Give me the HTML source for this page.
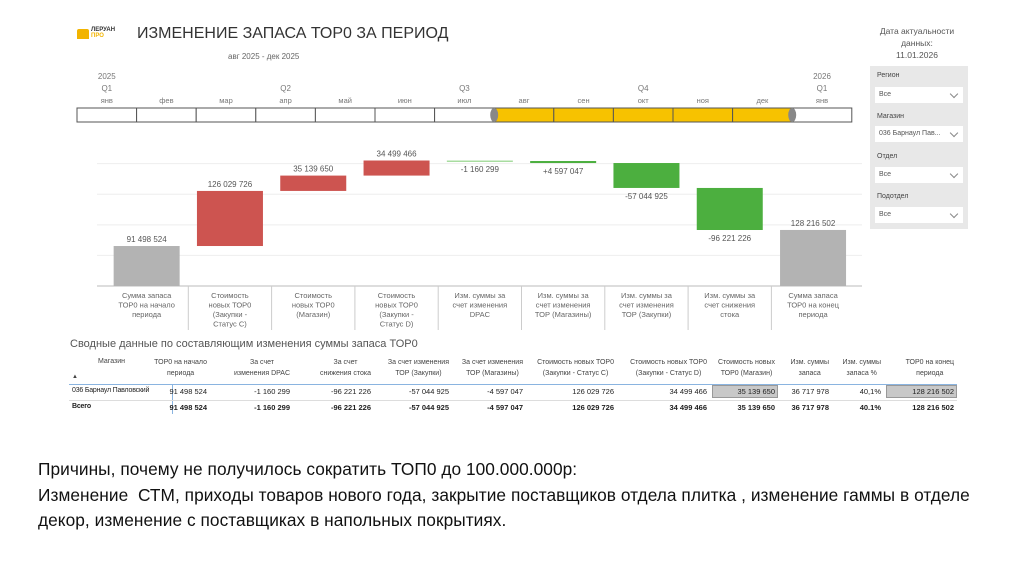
<!DOCTYPE html>
<html><head><meta charset="utf-8"><style>
body{margin:0;width:1024px;height:574px;background:#fff;overflow:hidden;font-family:"Liberation Sans","DejaVu Sans",sans-serif;position:relative}
.a{position:absolute}
.sm{font-size:8px;color:#666}
.slicer{position:absolute;left:870px;width:98px;background:#e8e8e8}
.dd{position:absolute;left:875px;width:88px;height:16px;background:#fff;font-size:7px;color:#555;line-height:16px;padding-left:4px;box-sizing:border-box}
.dd:after{content:"";position:absolute;right:6px;top:4px;width:5px;height:5px;border-right:1px solid #888;border-bottom:1px solid #888;transform:rotate(45deg)}
.lbl{position:absolute;left:877px;font-size:7px;color:#444}
.note{position:absolute;left:38px;font-size:17.3px;color:#111;white-space:nowrap;letter-spacing:0.05px}
#tbl{position:absolute;left:0;top:0;width:1024px;height:574px}
#tbl .a{white-space:nowrap}
</style></head><body>
<div class="a" style="left:77px;top:29px;width:12px;height:10px;background:#f2b400;border-radius:2px 2px 0 0"></div>
<div class="a" style="left:91px;top:27px;font-size:6px;font-weight:bold;color:#333;line-height:6px">ЛЕРУАН<br><span style="color:#f2b400">ПРО</span></div>
<div class="a" style="left:137px;top:25px;font-size:16px;color:#333">ИЗМЕНЕНИЕ ЗАПАСА ТОР0 ЗА ПЕРИОД</div>
<div class="a sm" style="left:228px;top:52px">авг 2025 - дек 2025</div>
<div class="a" style="left:872px;top:25px;width:90px;text-align:center;font-size:8.5px;color:#555;line-height:12px">Дата актуальности данных:<br>11.01.2026</div>
<div class="slicer" style="top:66px;height:163px"></div>
<div class="lbl" style="top:72px">Регион</div>
<div class="dd" style="top:87px">Все</div>
<div class="lbl" style="top:113px">Магазин</div>
<div class="dd" style="top:126px">036 Барнаул Пав...</div>
<div class="lbl" style="top:153px">Отдел</div>
<div class="dd" style="top:167px">Все</div>
<div class="lbl" style="top:193px">Подотдел</div>
<div class="dd" style="top:207px">Все</div>

<svg class="a" style="left:0;top:0" width="1024" height="340">
<g id="tl"></g>
<g id="ch"></g>
</svg>

<div class="a" style="left:70px;top:338px;font-size:11px;color:#555">Сводные данные по составляющим изменения суммы запаса ТОР0</div>
<div id="tbl"></div>

<div class="note" style="top:459px">Причины, почему не получилось сократить ТОП0 до 100.000.000р:</div>
<div class="note" style="top:485px">Изменение&nbsp; СТМ, приходы товаров нового года, закрытие поставщиков отдела плитка , изменение гаммы в отделе</div>
<div class="note" style="top:510px">декор, изменение с поставщиках в напольных покрытиях.</div>

<script>
const months=["янв","фев","мар","апр","май","июн","июл","авг","сен","окт","ноя","дек","янв"];
const categories=["Сумма запаса|ТОР0 на начало|периода","Стоимость|новых ТОР0|(Закупки -|Статус С)","Стоимость|новых ТОР0|(Магазин)","Стоимость|новых ТОР0|(Закупки -|Статус D)","Изм. суммы за|счет изменения|DPAC","Изм. суммы за|счет изменения|ТОР (Магазины)","Изм. суммы за|счет изменения|ТОР (Закупки)","Изм. суммы за|счет снижения|стока","Сумма запаса|ТОР0 на конец|периода"];
const values=[91498524,126029726,35139650,34499466,-1160299,-4597047,-57044925,-96221226,128216502];
const labels=["91 498 524","126 029 726","35 139 650","34 499 466","-1 160 299","+4 597 047","-57 044 925","-96 221 226","128 216 502"];
const kinds=["total","delta","delta","delta","delta","delta","delta","delta","total"];
const NS="http://www.w3.org/2000/svg";
function mk(p,t,a){const e=document.createElementNS(NS,t);for(const k in a)e.setAttribute(k,a[k]);p.appendChild(e);return e;}
const tl=document.getElementById('tl');
const tx0=77,tw=59.6,ty=108,th=14;
months.forEach((m,i)=>{
 const x=tx0+i*tw;const sel=i>=7&&i<=11;
 const r=mk(tl,'rect',{x:x,y:ty,width:tw,height:th,fill:sel?'#f7c200':'#fff',stroke:'#555','stroke-width':1});
 
 
 const t=mk(tl,'text',{x:x+tw/2,y:103,'text-anchor':'middle','font-size':7.5,fill:'#777'});t.textContent=m;
 
 
 if(i%3==0){const q=mk(tl,'text',{x:x+tw/2,y:91,'text-anchor':'middle','font-size':8,fill:'#777'});q.textContent='Q'+(i==12?1:i/3+1);
 
 }
 if(i==0||i==12){const y=mk(tl,'text',{x:x+tw/2,y:79,'text-anchor':'middle','font-size':8,fill:'#777'});y.textContent=i?'2026':'2025';
 
 }
});
[tx0+7*tw,tx0+12*tw].forEach(x=>{const h=mk(tl,'ellipse',{cx:x,cy:ty+th/2,rx:4,ry:7,fill:'#888'});
 
 });
const ch=document.getElementById('ch');
const base=286,k=0.437/1e6,cx0=105,cw=83.3,bw=66;
const ys=v=>base-v*k;
[70e6,140e6,210e6,280e6].forEach(g=>{const l=mk(ch,'line',{x1:97,x2:862,y1:ys(g),y2:ys(g),stroke:'#eee'});
 
 });
mk(ch,'line',{x1:97,x2:862,y1:base,y2:base,stroke:'#bbb'});
let run=0;
values.forEach((v,i)=>{
 let lo,hi,col;
 if(kinds[i]=='total'){lo=0;hi=v;col='#b3b3b3';run=v;}
 else{lo=Math.min(run,run+v);hi=Math.max(run,run+v);col=v>0?'#cd5450':'#4caf3f';run+=v;}
 const x=cx0+i*cw+(cw-bw)/2;
 let h=(hi-lo)*k;if(h<1.5)h=1.5;
 const r=mk(ch,'rect',{x:x,y:ys(hi),width:bw,height:h,fill:col});
 if(Math.abs(v)<2e6&&kinds[i]=='delta')r.setAttribute('fill','#a8dca0');
 
 
 const ly=(kinds[i]=='delta'&&v<0)?ys(lo)+11:ys(hi)-4;
 const t=mk(ch,'text',{x:x+bw/2,y:ly,'text-anchor':'middle','font-size':8,fill:'#555'});t.textContent=labels[i];
 
 
 const cxm=cx0+i*cw;
 if(i>0){const d=mk(ch,'line',{x1:cxm,x2:cxm,y1:base,y2:330,stroke:'#ccc'});
 
 }
 categories[i].split('|').forEach((s,j)=>{const c=mk(ch,'text',{x:cxm+cw/2,y:298+j*9.5,'text-anchor':'middle','font-size':7.5,fill:'#666'});c.textContent=s;
 
 });
});
const heads=["ТОР0 на начало|периода","За счет|изменения DPAC","За счет|снижения стока","За счет изменения|ТОР (Закупки)","За счет изменения|ТОР (Магазины)","Стоимость новых ТОР0|(Закупки - Статус С)","Стоимость новых ТОР0|(Закупки - Статус D)","Стоимость новых|ТОР0 (Магазин)","Изм. суммы|запаса","Изм. суммы|запаса %","ТОР0 на конец|периода"];
const row1=["91 498 524","-1 160 299","-96 221 226","-57 044 925","-4 597 047","126 029 726","34 499 466","35 139 650","36 717 978","40,1%","128 216 502"];
const row2=["91 498 524","-1 160 299","-96 221 226","-57 044 925","-4 597 047","126 029 726","34 499 466","35 139 650","36 717 978","40.1%","128 216 502"];
const rights=[207,290,371,449,523,614,707,775,829,881,954];
const tb=document.getElementById('tbl');
function div(css,txt,name){const d=document.createElement('div');d.className='a';d.style.cssText=css;d.textContent=txt;
 
 
 tb.appendChild(d);return d;}
div('left:98px;top:358px;font-size:7px;color:#444','Магазин','table-header');
div('left:72px;top:374px;font-size:6px;color:#444','▲','sort-arrow');
heads.forEach((h,i)=>{const d=div('right:'+(1024-rights[i])+'px;top:357px;font-size:7px;color:#444;text-align:center;line-height:11px',''
,'table-header');d.innerHTML=h.replace('|','<br>');});
div('left:69px;top:384px;width:888px;height:1px;background:#8ab4e0','','header-line');
div('left:172px;top:384px;width:1px;height:30px;background:#8ab4e0','','column-divider');
div('left:69px;top:400px;width:888px;height:1px;background:#ddd','','row-line');
[[row1,392,'normal'],[row2,408,'bold']].forEach(([r,y,w])=>{
 div('left:72px;top:'+(y-5)+'px;font-size:7px;letter-spacing:-0.2px;color:#222;font-weight:'+w,w=='bold'?'Всего':'036 Барнаул Павловский','store-cell');
 r.forEach((v,i)=>{
  if(w=='normal'&&(i==7||i==10))div('left:'+(rights[i]-(i==7?63:68))+'px;top:'+(y-7)+'px;width:'+(i==7?66:71)+'px;height:13px;background:#c8c8c8;border:1px solid #999;box-sizing:border-box','','highlight-cell');
  div('right:'+(1024-rights[i])+'px;top:'+(y-5)+'px;font-size:7.5px;color:#222;font-weight:'+w,v,'table-cell');
 });
});
</script>
</body></html>
